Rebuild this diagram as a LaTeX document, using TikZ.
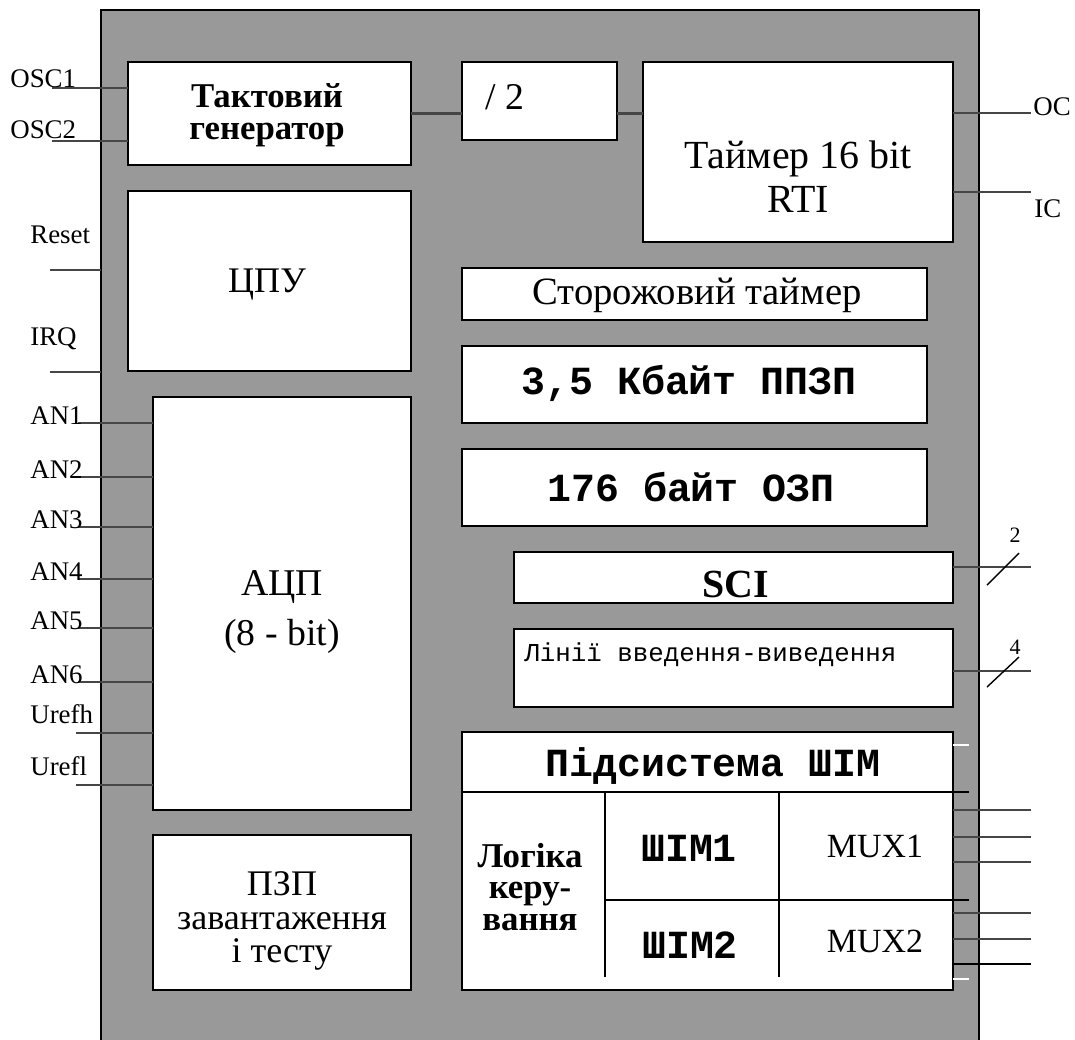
\documentclass[tikz,border=0pt]{standalone}
\usepackage{fontspec}
\setmainfont{Liberation Serif}
\setmonofont{Liberation Mono}
\definecolor{bodygray}{RGB}{153,153,153}
\definecolor{leadgray}{RGB}{70,70,70}
\newcommand{\fsz}[2]{\fontsize{#1}{#2}\selectfont}

\begin{document}
\begin{tikzpicture}[x=0.02cm, y=-0.02cm,
  blk/.style={draw, fill=white, line width=1.1pt, inner sep=0pt, outer sep=0pt},
  sz/.style 2 args={minimum width=#1*0.02cm, minimum height=#2*0.02cm},
  txt/.style={inner sep=0pt, align=center},
  mono/.style={txt, font=\ttfamily\bfseries\fsz{22.7}{22}},
  lead/.style={draw=leadgray, line width=1.5pt},
  thinlead/.style={draw=black, line width=0.8pt},
  pinlbl/.style={inner sep=0pt, anchor=base west, font=\fsz{15.3}{18}}]
  \useasboundingbox (0,0) rectangle (1075,1039);
  % body of the microcontroller (bottom runs off the page)
  \node[fill=bodygray, inner sep=0pt, outer sep=0pt, sz={878}{1040}, anchor=north west] (mcu) at (101,10) {};
  \draw[line width=0.8pt] (mcu.south west) -- (mcu.north west) -- (mcu.north east) -- (mcu.south east);

  % left column
  \node[blk, sz={283}{103}] (clk) at (269.5,113.5) {};
  \node[blk, sz={283}{180}] (cpu) at (269.5,281) {};
  \node[blk, sz={258}{413}] (adc) at (282,603.5) {};
  \node[blk, sz={258}{155}] (boot) at (282,912.5) {};
  % right column
  \node[blk, sz={155}{78}] (div) at (539.5,101) {};
  \node[blk, sz={310}{180}] (tmr) at (798,152) {};
  \node[blk, sz={465}{52}] (wdt) at (694.5,294) {};
  \node[blk, sz={465}{77}] (eeprom) at (694.5,384.5) {};
  \node[blk, sz={465}{77}] (ram) at (694.5,487.5) {};
  \node[blk, sz={439}{51}] (sci) at (733.5,577.5) {};
  \node[blk, sz={439}{78}] (io) at (733.5,668) {};
  \node[blk, sz={491}{258}] (pwm) at (707.5,861) {};

  % block texts
  \node[txt, font=\bfseries\fsz{19.8}{18}] (clk-t) at (267,115) {Тактовий\\генератор};
  \node[txt, font=\fsz{20.5}{20}] (cpu-t) at (267,285) {ЦПУ};
  \node[txt, font=\fsz{21.5}{28}] (adc-t) at (282,612) {АЦП\\(8 - bit)};
  \node[txt, font=\fsz{20.5}{19}] (boot-t) at (282,921) {ПЗП\\завантаження\\і тесту};
  \node[txt, font=\fsz{21.5}{22}] (div-t) at (505,97) {/ 2};
  \node[txt, font=\fsz{22.7}{25}] (tmr-t) at (798,177) {Таймер 16 bit\\RTI};
  \node[txt, font=\fsz{22}{22}] (wdt-t) at (697,295) {Сторожовий таймер};
  \node[mono] (eeprom-t) at (689,383) {3,5 Кбайт ППЗП};
  \node[mono] (ram-t) at (691,487) {176 байт ОЗП};
  \node[txt, font=\bfseries\fsz{22.7}{22}] (sci-t) at (736,584) {SCI};
  \node[txt, font=\ttfamily\fsz{14.7}{16}, anchor=west] (io-t) at (524,655) {Лінії введення-виведення};

  % PWM subsystem cells
  \draw[line width=0.8pt] (462,792) -- (969,792);
  \draw[line width=0.8pt] (605,792) -- (605,977);
  \draw[line width=0.8pt] (779,792) -- (779,977);
  \draw[line width=0.8pt] (605,900) -- (969,900);
  \draw[line width=1.6pt] (462,745) -- (462,979);
  \draw[white, line width=1pt] (953,745) -- (969,745);
  \draw[white, line width=1pt] (953,979) -- (969,979);
  \node[mono] (pwm-t) at (713,766) {Підсистема ШІМ};
  \node[txt, font=\bfseries\fsz{19.8}{18}] (logic-t) at (530,887) {Логіка\\керу-\\вання};
  \node[mono] (pwm1-t) at (689,848) {ШІМ1};
  \node[mono] (pwm2-t) at (690,945) {ШІМ2};
  \node[txt, font=\fsz{19.3}{20}] (mux1-t) at (875,846) {MUX1};
  \node[txt, font=\fsz{19.3}{20}] (mux2-t) at (875,941) {MUX2};

  % internal links
  \draw[lead] (clk.east) -- (clk.east -| div.west);
  \draw[lead] (div.east |- clk.east) -- (tmr.west |- clk.east);

  % left pins
  \coordinate (osc1) at (52,88);
  \coordinate (osc2) at (52,141);
  \draw[lead] (osc1) -- (osc1 -| clk.west);
  \draw[lead] (osc2) -- (osc2 -| clk.west);
  \node[pinlbl] (osc1-l) at (10,87) {OSC1};
  \node[pinlbl] (osc2-l) at (10,138) {OSC2};
  \coordinate (rst) at (50,270);
  \coordinate (irq) at (50,372);
  \draw[lead] (rst) -- (rst -| mcu.west);
  \draw[lead] (irq) -- (irq -| mcu.west);
  \node[pinlbl] (rst-l) at (30,243) {Reset};
  \node[pinlbl] (irq-l) at (30,345) {IRQ};
  \foreach \n/\y in {1/423,2/477,3/527,4/579,5/628,6/682} {
    \coordinate (an\n) at (78,\y);
    \draw[lead] (an\n) -- (an\n -| adc.west);
    \node[pinlbl] (an\n-l) at (30,\y+1) {AN\n};
  }
  \coordinate (urefh) at (76,733);
  \coordinate (urefl) at (76,785);
  \draw[lead] (urefh) -- (urefh -| adc.west);
  \draw[lead] (urefl) -- (urefl -| adc.west);
  \node[pinlbl] (urefh-l) at (30,723) {Urefh};
  \node[pinlbl] (urefl-l) at (30,775) {Urefl};

  % right pins
  \coordinate (oc) at (1031,113);
  \coordinate (ic) at (1031,192);
  \draw[lead] (oc -| tmr.east) -- (oc);
  \draw[lead] (ic -| tmr.east) -- (ic);
  \node[pinlbl] (oc-l) at (1033,115) {OC};
  \node[pinlbl] (ic-l) at (1034,217) {IC};
  \coordinate (scio) at (1031,567);
  \coordinate (ioo) at (1031,671);
  \draw[lead] (scio -| sci.east) -- (scio);
  \draw[lead] (ioo -| io.east) -- (ioo);
  \draw[thinlead] (987,585) -- (1019,553);
  \draw[thinlead] (987,687) -- (1019,657);
  \node[txt, font=\fsz{12.5}{14}] (scin) at (1015,535) {2};
  \node[txt, font=\fsz{12.5}{14}] (ion) at (1015,647) {4};
  \foreach \y in {810,837,862,913,939} {
    \coordinate (pw\y) at (1031,\y);
    \draw[lead] (pw\y -| pwm.east) -- (pw\y);
  }
  \coordinate (pw964) at (1031,964);
  \draw[thinlead] (pw964 -| pwm.east) -- (pw964);
\end{tikzpicture}
\end{document}
